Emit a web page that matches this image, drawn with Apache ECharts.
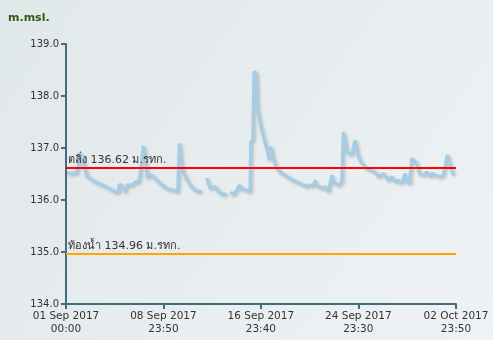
<!DOCTYPE html>
<html><head><meta charset="utf-8">
<script src="https://cdn.jsdelivr.net/npm/echarts@6/dist/echarts.min.js"></script>
<style>html,body{margin:0;padding:0;}#c{width:493px;height:340px;}</style>
</head><body><div id="c"></div>
<script>
// hours since 01 Sep 2017 00:00 (null = gap in record)
var hours = [2.0,18.3,23.6,26.2,31.5,36.8,41.3,57.7,77.4,97.1,102.4,104.9,108.9,115.6,120.1,129.9,133.3,137.8,143.1,146.3,152.2,155.5,157.5,160.1,163.4,171.9,185.1,198.3,211.3,219.9,223.1,227.8,234.3,244.1,254.0,260.5,267.2,
  272.0,
  277.0,283.5,293.3,303.2,316.4,
  320.5,
  324.3,329.4,336.1,341.2,345.9,355.8,362.3,363.6,367.6,370.1,374.1,376.6,382.0,388.4,395.1,399.7,403.0,406.9,413.4,421.3,434.5,447.5,460.7,473.9,480.4,486.9,490.2,493.6,503.4,509.9,516.4,523.1,526.3,536.1,542.8,546.0,549.3,552.6,562.5,565.6,569.0,572.3,575.5,582.2,592.0,598.5,608.3,614.9,624.7,634.5,641.2,647.7,654.2,660.9,667.4,670.8,675.9,680.6,683.8,690.5,695.6,703.5,710.2,716.6,720.0,726.5,736.3,742.8,750.7,754.6,759.4,762.5];
var levels = [136.52,136.51,136.61,136.90,136.85,136.61,136.45,136.35,136.26,136.16,136.15,136.30,136.29,136.16,136.29,136.29,136.26,136.35,136.35,136.54,137.04,137.06,136.67,136.42,136.50,136.45,136.32,136.22,136.19,136.16,137.09,136.64,136.45,136.29,136.19,136.16,136.17,
  null,
  136.42,136.22,136.26,136.13,136.10,
  null,
  136.16,136.10,136.19,136.29,136.22,136.19,136.16,137.12,137.15,138.47,138.44,137.79,137.47,137.22,136.99,136.77,137.03,136.83,136.64,136.54,136.45,136.38,136.32,136.26,136.29,136.27,136.38,136.29,136.22,136.26,136.16,136.48,136.35,136.29,136.35,137.31,137.28,136.93,136.87,136.87,137.15,137.12,136.83,136.71,136.61,136.58,136.54,136.45,136.51,136.38,136.45,136.35,136.38,136.32,136.51,136.35,136.32,136.80,136.80,136.71,136.51,136.48,136.54,136.45,136.51,136.48,136.45,136.48,136.87,136.87,136.58,136.48];

var bankLevel = 136.62, bankLabel = 'ตลิ่ง 136.62 ม.รทก.';
var bedLevel = 134.96, bedLabel = 'ท้องน้ำ 134.96 ม.รทก.';

var xTickHours = [0, 191.8333, 383.6667, 575.5, 767.8333];
var xTickLabels = ['01 Sep 2017\n00:00','08 Sep 2017\n23:50','16 Sep 2017\n23:40','24 Sep 2017\n23:30','02 Oct 2017\n23:50'];
var yTicks = ['134.0','135.0','136.0','137.0','138.0','139.0'];

var seriesData = hours.map(function(h,i){ return [h, levels[i]]; });

var chart = echarts.init(document.getElementById('c'), null, {renderer:'canvas'});
chart.setOption({
  animation:false,
  backgroundColor: new echarts.graphic.LinearGradient(0,0,1,1,[{offset:0,color:'#e1e8ea'},{offset:1,color:'#eef2f4'}]),
  textStyle:{fontFamily:'DejaVu Sans'},
  title:{text:'m.msl.',left:3,top:8,textStyle:{fontSize:11,fontWeight:'bold',color:'#2f5a12',fontFamily:'DejaVu Sans'}},
  grid:{left:66,right:37,top:44,bottom:36},
  xAxis:{
    type:'value', min:0, max:767.8333,
    axisLine:{lineStyle:{color:'#416d7e',width:2}},
    axisTick:{customValues:xTickHours,length:5,lineStyle:{color:'#416d7e',width:2}},
    axisLabel:{customValues:xTickHours,fontSize:10.5,color:'#333',lineHeight:13,margin:6,
      formatter:function(v){ var best=0; for(var i=0;i<xTickHours.length;i++){ if(Math.abs(xTickHours[i]-v)<Math.abs(xTickHours[best]-v)) best=i; } return xTickLabels[best]; }},
    splitLine:{show:false}
  },
  yAxis:{
    type:'value', min:134, max:139, interval:1,
    axisLine:{show:true,lineStyle:{color:'#416d7e',width:2}},
    axisTick:{show:true,length:5,lineStyle:{color:'#416d7e',width:2}},
    axisLabel:{fontSize:10,color:'#333',margin:7,formatter:function(v){ return yTicks[Math.round(v-134)]; }},
    splitLine:{show:false}
  },
  series:[{
    type:'line', data:seriesData, showSymbol:false, connectNulls:false,
    lineStyle:{color:'#a5cde6',width:3,shadowColor:'rgba(0,0,0,0.22)',shadowBlur:3,shadowOffsetX:1.5,shadowOffsetY:1.5},
    itemStyle:{color:'#a5cde6'},
    markLine:{
      symbol:'none', silent:true,
      data:[
        {yAxis:bankLevel, lineStyle:{color:'#ff0000',width:2,type:'solid'}, label:{formatter:bankLabel}},
        {yAxis:bedLevel, lineStyle:{color:'#ffa500',width:2,type:'solid'}, label:{formatter:bedLabel}}
      ],
      label:{position:'insideStartTop',color:'#333',fontSize:11,distance:[2,2],fontFamily:'DejaVu Sans, Noto Sans'}
    }
  }]
});
</script></body></html>
